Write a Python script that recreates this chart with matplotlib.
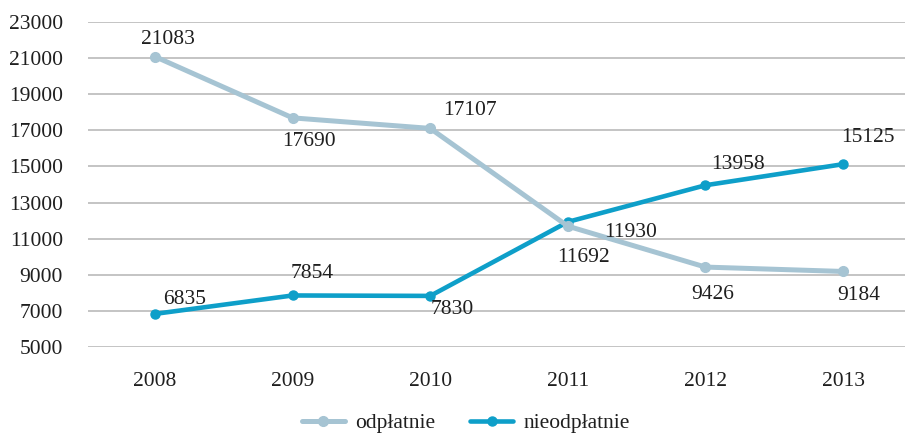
import matplotlib.pyplot as plt

years = ["2008", "2009", "2010", "2011", "2012", "2013"]
odplatnie = [21083, 17690, 17107, 11692, 9426, 9184]
nieodplatnie = [6835, 7854, 7830, 11930, 13958, 15125]

# label offsets in pixels (dx, dy), dy up
off_odp = [(13, 17), (16, -24), (40, 18), (16, -31), (7, -27), (16, -24)]
off_nie = [(30, 14), (20, 22), (22, -14), (63, -11), (33, 21), (25, 27)]

plt.rcParams['font.family'] = ['Liberation Serif', 'DejaVu Serif']

c_odp = '#A6C4D3'
c_nie = '#0E9FC9'
fs = 15.5
txt = '#1f1f1f'

fig = plt.figure(figsize=(9.05, 4.34), dpi=100)
ax = fig.add_axes([88 / 905, 1 - 347 / 434, 1 - 88 / 905, (347 - 22) / 434])

x = list(range(len(years)))
l2, = ax.plot(x, nieodplatnie, color=c_nie, lw=3.3, marker='o', ms=6.5, zorder=3,
              label='nieodpłatnie', solid_capstyle='round')
l1, = ax.plot(x, odplatnie, color=c_odp, lw=3.6, marker='o', ms=7, zorder=4,
              label='odpłatnie', solid_capstyle='round')

for i in x:
    ax.annotate(str(odplatnie[i]), (i, odplatnie[i]), xytext=off_odp[i],
                textcoords='offset pixels', ha='center', va='center',
                fontsize=fs, color=txt, zorder=5)
    ax.annotate(str(nieodplatnie[i]), (i, nieodplatnie[i]), xytext=off_nie[i],
                textcoords='offset pixels', ha='center', va='center',
                fontsize=fs, color=txt, zorder=5)

ax.set_ylim(5000, 23000)
ax.set_yticks(range(5000, 23001, 2000))
ax.set_xlim(-0.487, 5.45)
ax.set_xticks(x)
ax.set_xticklabels(years)
ax.tick_params(length=0, labelsize=fs, colors=txt)
ax.tick_params(axis='y', pad=18)
ax.tick_params(axis='x', pad=18)
ax.grid(axis='y', color='#BFBFBF', lw=1.3)
ax.set_axisbelow(True)
for s in ax.spines.values():
    s.set_visible(False)

fig.legend(handles=[l1, l2], loc='center', bbox_to_anchor=(466 / 905, 1 - 423 / 434),
           ncol=2, frameon=False, fontsize=fs, handlelength=2.0, columnspacing=1.6,
           handletextpad=0.5, labelcolor=txt)

fig.savefig('out.png', dpi=100)
